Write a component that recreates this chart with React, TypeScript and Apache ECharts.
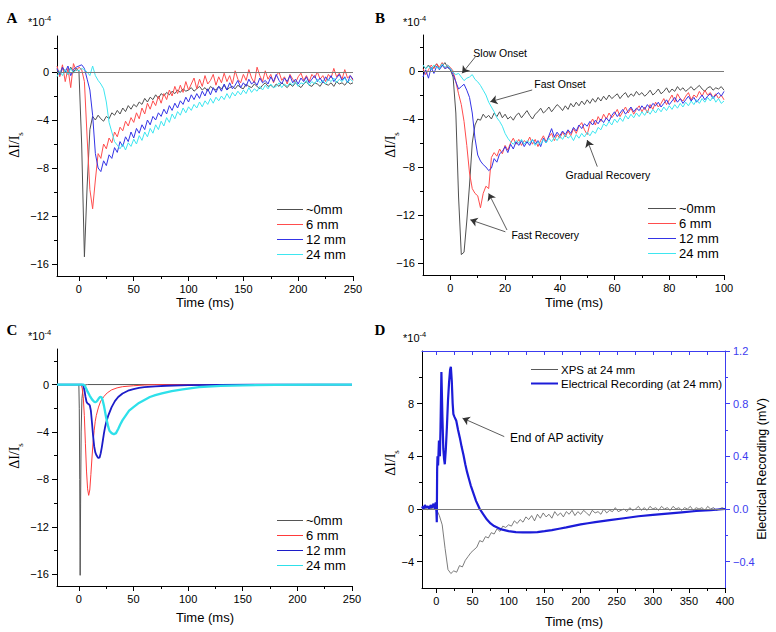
import React, { useEffect, useRef } from "react";
import * as echarts from "echarts";

// ---------- DATA ----------
const SERIES_NAMES = ["~0mm", "6 mm", "12 mm", "24 mm"];

// Panel A: time axis starts at -20 ms, one sample every 2.5 ms
const A_T0 = -20;
const A_DT = 2.5;
const A_BLACK = [
  0.2, -0.3, 0.3, 0.1, -0.2, 0.4, 0.0, 0.3, 0.1, -6.0,
  -15.4, -9.5, -4.8, -3.7, -4.0, -3.6, -3.9, -4.1, -3.7, -3.9,
  -3.4, -3.6, -3.2, -3.5, -3.0, -3.3, -2.8, -3.1, -2.7, -2.9,
  -2.5, -2.7, -2.2, -2.5, -2.1, -2.3, -1.9, -2.2, -1.8, -2.0,
  -1.7, -1.9, -1.6, -1.8, -1.5, -1.7, -1.4, -1.6, -1.5, -1.3,
  -1.6, -1.4, -1.2, -1.5, -1.3, -1.6, -1.2, -1.4, -1.5, -1.2,
  -1.4, -1.1, -1.5, -1.3, -1.2, -1.4, -1.1, -1.3, -1.4, -1.0,
  -1.2, -1.3, -1.0, -1.2, -1.4, -1.1, -0.9, -1.2, -1.1, -1.3,
  -1.0, -1.2, -0.9, -1.1, -1.3, -1.0, -1.2, -0.9, -1.1, -1.3,
  -1.0, -0.8, -1.1, -1.2, -0.9, -1.0, -1.2, -0.8, -1.0, -1.1,
  -0.9, -1.2, -0.8, -1.0, -0.9, -1.1, -0.8, -1.0, -0.9,
];
const A_RED = [
  0.5, -0.4, 0.6, -0.8, 0.3, -1.3, 0.7, 0.1, 0.4, 0.2,
  -0.8, -5.5, -9.8, -11.4, -9.0, -6.8, -7.2, -6.0, -6.4, -5.5,
  -5.9, -5.0, -5.4, -4.6, -4.9, -4.1, -4.5, -3.8, -4.2, -3.4,
  -3.9, -3.0, -3.5, -2.6, -3.1, -2.4, -2.8, -2.0, -2.6, -1.8,
  -2.3, -1.5, -2.0, -1.2, -1.8, -1.1, -1.7, -0.8, -1.5, -1.0,
  -0.5, -1.4, -0.6, -1.2, -0.3, -1.0, -0.7, -0.2, -1.1, -0.4,
  -0.9, -0.1, -0.8, -0.3, -1.0, 0.1, -0.6, -0.9, -0.2, -0.7,
  0.2, -0.5, -0.9, 0.4, -0.3, -0.8, 0.1, -0.6, -0.2, -0.9,
  -0.3, 0.0, -0.7, -0.4, -1.0, -0.2, -0.6, -0.9, -0.4, -0.1,
  -0.7, -0.3, -0.8, -0.2, -0.5, 0.0, -0.6, -0.3, -0.8, -0.2,
  -0.5, 0.3, -0.4, -0.1, -0.6, 0.2, -0.5, -0.3, -0.7,
];
const A_BLUE = [
  0.3, -0.2, 0.4, 0.0, 0.5, -0.3, 0.2, 0.4, 0.5, 0.6,
  0.3, -0.6, -1.5, -3.6, -6.8, -8.0, -8.3, -7.4, -7.8, -6.9,
  -7.2, -6.3, -6.7, -5.8, -6.2, -5.4, -5.8, -5.0, -5.5, -4.7,
  -5.1, -4.4, -4.8, -4.0, -4.4, -3.7, -4.0, -3.4, -3.7, -3.1,
  -3.5, -2.8, -3.2, -2.6, -3.0, -2.4, -2.7, -2.1, -2.5, -1.9,
  -2.3, -1.8, -2.2, -1.6, -2.0, -1.4, -1.9, -1.3, -1.7, -1.2,
  -1.6, -1.0, -1.5, -0.9, -1.4, -1.1, -0.7, -1.3, -0.9, -1.2,
  -0.6, -1.0, -0.8, -1.1, -0.5, -0.9, -0.7, -1.0, -0.4, -0.8,
  -0.2, -0.7, -1.0, -0.5, -0.8, -0.3, -0.9, -0.6, -1.0, -0.5,
  -0.8, -0.4, -0.9, -0.6, -0.3, -0.8, -0.5, -0.9, -0.4, -0.7,
  -0.3, -0.8, -0.5, -0.2, -0.7, -0.4, -0.9, -0.3, -0.6,
];
const A_CYAN = [
  -0.4, 0.1, -0.3, 0.2, -0.2, 0.3, -0.1, 0.2, 0.1, 0.3,
  0.2, 0.0, -0.3, 0.5, -0.3, -0.7, -1.0, -1.4, -2.5, -4.2,
  -5.0, -5.8, -6.1, -6.4, -6.0, -6.5, -5.9, -6.2, -5.6, -6.0,
  -5.3, -5.7, -5.0, -5.4, -4.7, -5.1, -4.4, -4.8, -4.1, -4.5,
  -3.8, -4.2, -3.5, -3.9, -3.3, -3.6, -3.0, -3.4, -2.9, -3.2,
  -2.7, -3.0, -2.5, -2.9, -2.4, -2.7, -2.2, -2.6, -2.1, -2.4,
  -2.0, -2.3, -1.8, -2.2, -1.7, -2.0, -1.6, -1.9, -1.5, -1.8,
  -1.3, -1.7, -1.4, -1.6, -1.2, -1.5, -1.1, -1.4, -1.0, -1.3,
  -1.2, -0.9, -1.3, -1.0, -1.2, -0.9, -1.1, -0.8, -1.2, -0.9,
  -1.0, -0.7, -1.1, -0.8, -1.0, -0.6, -0.9, -0.7, -1.0, -0.6,
  -0.8, -0.5, -0.9, -0.6, -0.8, -0.5, -0.9, -0.6, -0.8,
];

// Panel B: time axis starts at -10 ms, one sample every 1 ms
const B_T0 = -10;
const B_DT = 1;
const B_BLACK = [
  0.4, 0.2, 0.5, 0.1, 0.3, 0.6, 0.2, 0.4, 0.7, 0.3,
  0.1, -0.5, -3.5, -10.5, -15.3, -15.1, -12.5, -9.5, -6.0, -4.5,
  -4.0, -4.1, -3.6, -3.9, -3.7, -4.0, -3.5, -3.8, -3.4, -3.9,
  -3.6, -4.0, -3.8, -4.1, -3.7, -3.5, -3.9, -3.6, -3.3, -3.7,
  -4.0, -3.6, -3.4, -3.1, -3.5, -3.3, -3.0, -3.4, -3.1, -2.8,
  -3.0, -3.3, -2.9, -3.2, -2.7, -3.0, -2.6, -2.9, -2.5, -2.8,
  -2.4, -2.7, -2.3, -2.6, -2.2, -2.5, -2.1, -2.4, -2.0, -2.3,
  -2.1, -1.9, -2.3, -2.0, -1.8, -2.2, -1.9, -2.1, -1.7, -2.0,
  -1.8, -2.1, -1.9, -1.6, -2.0, -1.8, -1.5, -1.9, -1.7, -1.4,
  -1.8, -1.5, -1.7, -1.3, -1.6, -1.4, -1.7, -1.5, -1.3, -1.6,
  -1.4, -1.2, -1.5, -1.7, -1.4, -1.3, -1.6, -1.4, -1.5, -1.3,
  -1.6,
];
const B_RED = [
  0.2, -0.3, 0.1, 0.5, 0.2, 0.6, 0.3, 0.7, 0.2, 0.5,
  0.3, 0.0, -0.9, -1.9, -2.8, -4.2, -6.2, -8.5, -9.8, -10.2,
  -10.4, -11.4, -10.2, -9.6, -9.8, -7.2, -6.8, -7.1, -6.5, -6.9,
  -6.2, -6.6, -6.0, -5.6, -6.1, -5.7, -6.2, -5.8, -6.0, -5.5,
  -6.1, -5.7, -6.3, -5.8, -5.4, -5.9, -5.5, -5.2, -5.8, -5.3,
  -5.6, -5.1, -5.5, -5.0, -5.4, -4.8, -5.2, -4.6, -4.3, -4.9,
  -5.3, -4.4, -4.0, -4.5, -3.8, -4.2, -3.6, -4.0, -3.5, -3.9,
  -3.6, -3.2, -3.8, -3.4, -3.0, -3.5, -3.1, -3.6, -3.2, -2.9,
  -3.4, -3.0, -3.5, -2.8, -3.2, -2.6, -3.0, -2.7, -2.3, -2.8,
  -2.4, -2.0, -2.6, -1.9, -2.3, -2.5, -2.1, -1.8, -2.4, -2.0,
  -2.2, -1.7, -2.1, -1.6, -2.0, -1.8, -2.2, -1.9, -2.3, -2.0,
  -2.4,
];
const B_BLUE = [
  -0.5, 0.1, -0.6, 0.3, -0.2, 0.4, 0.1, 0.5, 0.2, 0.3,
  0.2, -0.3, -0.9, -1.5, -1.3, -1.1, -1.6, -2.2, -3.5, -5.6,
  -7.0, -7.5, -7.8, -8.0, -8.3, -8.1, -7.3, -7.6, -6.9, -6.7,
  -6.3, -6.8, -6.1, -6.5, -5.9, -6.2, -5.8, -6.3, -5.9, -6.2,
  -5.7, -6.1, -5.8, -6.3, -5.6, -6.0, -5.4, -4.8, -5.5, -5.1,
  -5.4, -5.0, -5.3, -4.9, -5.2, -4.7, -5.0, -4.5, -4.8, -4.4,
  -4.6, -4.2, -4.5, -4.1, -4.4, -4.0, -4.3, -3.9, -4.2, -3.7,
  -3.4, -3.8, -3.5, -3.2, -3.6, -3.3, -3.0, -3.4, -3.1, -3.3,
  -2.9, -3.2, -2.8, -3.1, -2.7, -2.9, -2.6, -3.0, -2.7, -2.4,
  -2.8, -2.5, -2.2, -2.6, -2.3, -2.7, -2.4, -2.1, -2.5, -2.2,
  -2.6, -2.3, -2.0, -2.4, -2.1, -1.9, -2.3, -2.0, -1.8, -2.1,
  -1.7,
];
const B_CYAN = [
  0.5, 0.2, 0.4, 0.1, 0.5, 0.3, 0.2, 0.6, 0.3, 0.5,
  0.2, -0.1, -0.3, -0.2, -0.5, -0.8, -0.6, -0.5, -0.3, -0.7,
  -0.9, -1.2, -1.6, -2.0, -2.6, -3.0, -3.4, -3.9, -4.2, -4.6,
  -5.2, -5.6, -5.9, -6.1, -5.8, -6.0, -5.7, -6.1, -5.8, -6.0,
  -5.7, -6.2, -5.9, -6.1, -5.7, -6.0, -5.6, -5.9, -5.5, -5.8,
  -5.4, -5.7, -5.3, -5.6, -5.4, -5.8, -5.3, -5.6, -5.2, -5.5,
  -5.1, -5.4, -5.0, -5.2, -4.7, -4.9, -4.4, -4.6, -4.2, -4.5,
  -4.0, -4.3, -3.9, -4.2, -3.7, -4.0, -3.6, -3.9, -3.5, -3.8,
  -3.4, -3.7, -3.3, -3.6, -3.2, -3.5, -3.1, -3.4, -3.0, -3.3,
  -2.9, -3.2, -2.8, -3.1, -2.7, -3.0, -2.6, -2.9, -2.5, -2.8,
  -2.4, -2.7, -2.3, -2.6, -2.2, -2.5, -2.1, -2.6, -2.3, -2.7,
  -2.5,
];

// Panel C: simulated (smooth) curves, [time ms, value]
const C_BLACK: [number, number][] = [
  [-20, 0], [0, 0], [0.4, -2], [0.8, -8], [1.2, -16.1], [1.6, -10], [2.1, -4],
  [2.8, -1.2], [3.8, -0.3], [5, -0.05], [8, 0], [250, 0],
];
const C_RED: [number, number][] = [
  [-20, 0], [2, 0], [3, -0.3], [4, -1.0], [5, -2.6], [6, -5.0], [7, -7.3], [8, -8.8],
  [9, -9.35], [10, -8.9], [11, -7.6], [12, -6.2], [13, -4.9], [14, -3.9], [15, -3.1],
  [16, -2.6], [18, -1.9], [20, -1.4], [23, -1.0], [26, -0.7], [30, -0.45], [35, -0.28],
  [40, -0.18], [50, -0.1], [60, -0.04], [70, -0.01], [100, 0], [250, 0],
];
const C_BLUE: [number, number][] = [
  [-20, 0], [3, 0], [4, -0.1], [5, -0.4], [6, -1.0], [7, -1.45], [8, -1.6], [9, -1.65],
  [10, -1.75], [11, -2.2], [12, -3.2], [13, -4.3], [14, -5.2], [15, -5.7], [16, -5.95],
  [17, -6.1], [18, -6.2], [19, -6.15], [20, -5.8], [21, -5.3], [22, -4.7], [23, -4.1],
  [24, -3.6], [25, -3.2], [27, -2.6], [30, -1.9], [33, -1.4], [36, -1.05], [40, -0.75],
  [45, -0.52], [50, -0.38], [55, -0.28], [60, -0.22], [70, -0.15], [80, -0.1],
  [100, -0.05], [130, -0.02], [160, 0], [250, 0],
];
const C_CYAN: [number, number][] = [
  [-20, 0], [4, 0], [5, -0.05], [6, -0.2], [7, -0.4], [8, -0.6], [10, -0.95], [12, -1.25],
  [14, -1.45], [15, -1.48], [16, -1.45], [17, -1.35], [18, -1.2], [19, -1.08], [20, -1.04],
  [21, -1.1], [22, -1.4], [23, -1.8], [24, -2.3], [25, -2.8], [26, -3.2], [27, -3.6],
  [28, -3.9], [30, -4.1], [32, -4.2], [34, -4.1], [36, -3.75], [38, -3.35], [40, -3.0],
  [43, -2.6], [46, -2.2], [50, -1.9], [55, -1.55], [60, -1.3], [65, -1.05], [70, -0.9],
  [76, -0.75], [85, -0.55], [95, -0.4], [110, -0.22], [130, -0.12], [150, -0.07],
  [180, -0.03], [220, -0.01], [250, 0],
];

// Panel D: XPS at 24 mm (left axis), from -20 ms every 4 ms
const D_NAMES = ["XPS at 24 mm", "Electrical Recording (at 24 mm)"];
const D_T0 = -20;
const D_DT = 4;
const D_XPS = [
  0.0, 0.05, -0.05, 0.05, 0.0, 0.0, -0.5, -1.2, -3.0, -4.6,
  -4.9, -4.7, -4.8, -4.3, -4.4, -3.9, -3.6, -3.3, -3.1, -2.9,
  -2.4, -2.5, -2.1, -2.2, -1.8, -1.9, -1.5, -1.7, -1.3, -1.4,
  -1.2, -1.3, -0.9, -1.1, -0.8, -1.0, -0.6, -0.8, -0.5, -0.9,
  -0.4, -0.7, -0.3, -0.6, -0.4, -0.7, -0.2, -0.5, -0.3, -0.6,
  -0.2, -0.4, -0.1, -0.5, -0.2, -0.4, -0.1, -0.3, -0.5, -0.1,
  -0.3, -0.2, -0.4, 0.0, -0.3, -0.1, -0.2, 0.1, -0.2, -0.1,
  0.0, -0.2, 0.1, -0.1, 0.0, 0.2, -0.1, 0.1, -0.1, 0.2,
  0.0, 0.1, -0.1, 0.2, 0.0, 0.1, -0.1, 0.2, 0.0, 0.1,
  -0.1, 0.1, 0.0, 0.2, -0.1, 0.1, 0.0, 0.1, -0.1, 0.2,
  0.0, 0.1, -0.1, 0.0, 0.1, 0.0,
];
// Panel D: electrical recording (right axis, mV), [time ms, mV]
const D_ELEC: [number, number][] = [
  [-20, 0.02], [-18, 0.0], [-16, 0.03], [-14, 0.01], [-12, 0.02], [-10, 0.0], [-8, 0.03],
  [-6, 0.01], [-4, 0.04], [-2, 0.0], [-1, 0.05], [0, -0.02], [0.5, -0.1], [1, 0.3],
  [1.5, 0.4], [2.3, 0.33], [3.5, 0.52], [4.8, 0.4], [5.6, 0.6], [6.9, 1.04], [8.2, 0.72],
  [9.5, 0.46], [10.6, 0.38], [11.6, 0.34], [13, 0.45], [14.5, 0.62], [16, 0.82],
  [17.5, 0.96], [19, 1.06], [20, 1.08], [21.3, 0.97], [22.5, 0.8], [23.5, 0.72], [25, 0.7],
  [27.5, 0.67], [30, 0.6], [32.5, 0.54], [35, 0.47], [37.5, 0.41], [40, 0.34], [42.5, 0.28],
  [45, 0.23], [47.5, 0.18], [50, 0.14], [52.5, 0.1], [55, 0.06], [57.5, 0.03], [60, 0.0],
  [62.5, -0.02], [65, -0.04], [70, -0.08], [75, -0.11], [80, -0.13], [90, -0.155],
  [100, -0.168], [110, -0.175], [120, -0.178], [130, -0.178], [140, -0.175], [150, -0.168],
  [160, -0.16], [170, -0.15], [180, -0.14], [190, -0.128], [200, -0.117], [210, -0.108],
  [220, -0.1], [240, -0.085], [260, -0.07], [280, -0.055], [300, -0.045], [320, -0.035],
  [340, -0.025], [360, -0.015], [380, -0.008], [400, 0.0],
];

// tick values
const A_MAJOR_X = [0, 50, 100, 150, 200, 250];
const A_MINOR_X = [25, 75, 125, 175, 225];
const B_MAJOR_X = [0, 20, 40, 60, 80, 100];
const B_MINOR_X = [10, 30, 50, 70, 90];
const D_MAJOR_X = [0, 50, 100, 150, 200, 250, 300, 350, 400];
const D_MINOR_X = [25, 75, 125, 175, 225, 275, 325, 375];
const D_TOP_X = [0, 25, 50, 75, 100, 125, 150, 175, 200, 225, 250, 275, 300, 325, 350, 375];
const Y_MAJOR = [-16, -12, -8, -4, 0];
const Y_MINOR = [-14, -10, -6, -2, 2];
const D_MAJOR_YL = [-4, 0, 4, 8];
const D_MINOR_YL = [-2, 2, 6, 10];
const D_MAJOR_YR = [-0.4, 0, 0.4, 0.8, 1.2];
const D_MINOR_YR = [-0.2, 0.2, 0.6, 1.0];

// ---------- STYLE ----------
const SANS = "Liberation Sans, Arial, sans-serif";
const SERIF = "Liberation Serif, Times New Roman, serif";
const COL_A = ["#505050", "#ff4d4d", "#3434e6", "#3ee6f0"];
const COL_C = ["#555555", "#ff3a3a", "#1c1cc8", "#2ee0ea"];
const AXIS_BLUE = "#3c3cf0";
const XPS_COL = "#5a5a5a";
const ELEC_COL = "#1c1cd8";

const fmt = (v: number) => (v < 0 ? "\u2212" + String(Math.abs(v)) : String(v));
const fmt1 = (v: number) => {
  const s = Math.abs(v).toFixed(1);
  return v < -1e-9 ? "\u2212" + s : s;
};
const pairs = (t0: number, dt: number, arr: number[]) => arr.map((v, i) => [t0 + dt * i, v]);

function xAxes(grid: number, min: number, max: number, major: number[], minor: number[]) {
  return [
    {
      type: "value", gridIndex: grid, position: "bottom", min, max,
      axisLine: { show: true, onZero: false, lineStyle: { color: "#000", width: 1 } },
      axisTick: { show: true, customValues: major, length: 5, lineStyle: { color: "#000" } },
      axisLabel: { show: true, customValues: major, formatter: fmt, color: "#000", fontSize: 11, fontFamily: SANS, margin: 7 },
      splitLine: { show: false },
    },
    {
      type: "value", gridIndex: grid, position: "bottom", min, max,
      axisLine: { show: false, onZero: false },
      axisTick: { show: true, customValues: minor, length: 3, lineStyle: { color: "#000" } },
      axisLabel: { show: false },
      splitLine: { show: false },
    },
  ];
}
function yAxes(grid: number, min: number, max: number, major: number[], minor: number[], pos = "left", color = "#000", f = fmt) {
  return [
    {
      type: "value", gridIndex: grid, position: pos, min, max,
      axisLine: { show: true, onZero: false, lineStyle: { color, width: 1 } },
      axisTick: { show: true, customValues: major, length: 5, lineStyle: { color } },
      axisLabel: { show: true, customValues: major, formatter: f, color, fontSize: 11, fontFamily: SANS, margin: 8 },
      splitLine: { show: false },
    },
    {
      type: "value", gridIndex: grid, position: pos, min, max,
      axisLine: { show: false, onZero: false },
      axisTick: { show: true, customValues: minor, length: 3, lineStyle: { color } },
      axisLabel: { show: false },
      splitLine: { show: false },
    },
  ];
}
function line(name: string, data: any[], xi: number, yi: number, color: string, width: number, extra: any = {}) {
  return {
    type: "line", name, data, xAxisIndex: xi, yAxisIndex: yi,
    symbol: "none", showSymbol: false, silent: true, animation: false,
    lineStyle: { color, width }, itemStyle: { color },
    ...extra,
  };
}
const zeroLine = {
  silent: true, symbol: ["none", "none"], label: { show: false }, animation: false,
  lineStyle: { color: "#7a7a7a", width: 1, type: "solid" },
  data: [{ yAxis: 0 }],
};
const arrowLine = (segs: number[][][]) => ({
  silent: true, symbol: ["none", "arrow"], symbolSize: 7, label: { show: false }, animation: false,
  lineStyle: { color: "#333", width: 0.8, type: "solid" },
  data: segs.map(([a, b]) => [{ coord: a }, { coord: b }]),
});
const noteText = (notes: { name: string; coord: number[] }[], size: number) => ({
  silent: true, symbol: "circle", symbolSize: 0, animation: false,
  label: { show: true, position: "right", distance: 0, formatter: (p: any) => p.name, color: "#000", fontSize: size, fontFamily: SANS },
  data: notes,
});

// legend drawn as graphic: a short line sample + label per entry
function legendBox(x: number, y0: number, step: number, names: string[], colors: string[], widths: number[], size: number, len = 26) {
  const out: any[] = [];
  names.forEach((n, i) => {
    const y = Math.round(y0 + i * step) + 0.5;
    out.push({
      type: "line", silent: true,
      shape: { x1: x, y1: y, x2: x + len, y2: y },
      style: { stroke: colors[i], lineWidth: widths[i] },
    });
    out.push({
      type: "text", x: x + len + 3, y, silent: true,
      style: { text: n, fill: "#000", fontSize: size, fontFamily: SANS, align: "left", verticalAlign: "middle" },
    });
  });
  return out;
}

const txt = (x: number, y: number, text: string, extra: any = {}) => ({
  type: "text", x, y, silent: true,
  style: { text, fill: "#000", fontSize: 13, fontFamily: SANS, align: "center", verticalAlign: "middle", ...extra },
});
const yTitle = (x: number, y: number) => ({
  type: "text", x, y, rotation: Math.PI / 2, silent: true,
  style: {
    text: "{a|\u0394I/I}{b|s}", align: "center", verticalAlign: "middle", fill: "#000",
    rich: {
      a: { fontSize: 14, fontFamily: SERIF, lineHeight: 20, fill: "#000" },
      b: { fontSize: 9, fontFamily: SERIF, lineHeight: 9, verticalAlign: "bottom", fill: "#000" },
    },
  },
});
const scale = (x: number, y: number) => ({
  type: "text", x, y, silent: true,
  style: {
    text: "{a|*10}{b|-4}", align: "left", verticalAlign: "middle", fill: "#000",
    rich: {
      a: { fontSize: 11, fontFamily: SANS, lineHeight: 16, fill: "#000" },
      b: { fontSize: 7.5, fontFamily: SANS, lineHeight: 8, verticalAlign: "top", fill: "#000" },
    },
  },
});
const panel = (x: number, y: number, t: string) => txt(x, y, t, { fontSize: 15, fontWeight: "bold", fontFamily: SERIF });

export default function App() {
  const ref = useRef<HTMLDivElement>(null);
  useEffect(() => {
    if (!ref.current) return;
    const chart = echarts.init(ref.current, undefined, { renderer: "svg" });
    const aData = [A_BLACK, A_RED, A_BLUE, A_CYAN];
    const bData = [B_BLACK, B_RED, B_BLUE, B_CYAN];
    const cData = [C_BLACK, C_RED, C_BLUE, C_CYAN];
    const cWidth = [1, 1, 1.8, 2.3];

    const series: any[] = [];
    SERIES_NAMES.forEach((n, i) => {
      series.push(line(n, pairs(A_T0, A_DT, aData[i]), 0, 0, COL_A[i], 1, i === 0 ? { markLine: zeroLine } : {}));
    });
    SERIES_NAMES.forEach((n, i) => {
      const extra: any = {};
      if (i === 0) extra.markLine = zeroLine;
      if (i === 1) {
        extra.markLine = arrowLine([
          [[9.1, 1.17], [4.3, -0.19]],
          [[29.9, -1.58], [14.6, -2.56]],
          [[53.7, -7.97], [50, -5.75]],
          [[20.1, -13.4], [7.3, -12.4]],
          [[20.7, -13.25], [14, -10.2]],
        ]);
        extra.markPoint = noteText([
          { name: "Slow Onset", coord: [8.4, 1.5] },
          { name: "Fast Onset", coord: [30.7, -1.08] },
          { name: "Gradual Recovery", coord: [42.1, -8.7] },
          { name: "Fast Recovery", coord: [22.3, -13.7] },
        ], 10.5);
      }
      series.push(line(n, pairs(B_T0, B_DT, bData[i]), 2, 2, COL_A[i], 1, extra));
    });
    SERIES_NAMES.forEach((n, i) => {
      series.push(line(n, cData[i], 4, 4, COL_C[i], cWidth[i]));
    });
    series.push(line(D_NAMES[0], pairs(D_T0, D_DT, D_XPS), 6, 6, XPS_COL, 0.8, { markLine: zeroLine }));
    series.push(line(D_NAMES[1], D_ELEC, 6, 8, ELEC_COL, 2.2, {
      markLine: arrowLine([[[94, 0.55], [36.2, 0.69]]]),
      markPoint: noteText([{ name: "End of AP activity", coord: [102, 0.537] }], 12),
    }));

    const thin = [1, 1, 1, 1];
    const option: any = {
      animation: false,
      backgroundColor: "#fff",
      grid: [
        { left: 57, top: 36, width: 296, height: 240 },
        { left: 423, top: 35, width: 301, height: 240 },
        { left: 57, top: 349, width: 295, height: 237 },
        { left: 422, top: 351, width: 303, height: 237 },
      ],
      xAxis: [
        ...xAxes(0, -20, 250, A_MAJOR_X, A_MINOR_X),
        ...xAxes(1, -10, 100, B_MAJOR_X, B_MINOR_X),
        ...xAxes(2, -20, 250, A_MAJOR_X, A_MINOR_X),
        ...xAxes(3, -20, 400, D_MAJOR_X, D_MINOR_X),
        {
          type: "value", gridIndex: 3, position: "top", min: -20, max: 400,
          axisLine: { show: true, onZero: false, lineStyle: { color: AXIS_BLUE, width: 1 } },
          axisTick: { show: true, inside: true, customValues: D_TOP_X, length: 4, lineStyle: { color: AXIS_BLUE } },
          axisLabel: { show: false }, splitLine: { show: false },
        },
      ],
      yAxis: [
        ...yAxes(0, -17, 3, Y_MAJOR, Y_MINOR),
        ...yAxes(1, -17, 3, Y_MAJOR, Y_MINOR),
        ...yAxes(2, -17, 3, Y_MAJOR, Y_MINOR),
        ...yAxes(3, -6, 12, D_MAJOR_YL, D_MINOR_YL),
        ...yAxes(3, -0.6, 1.2, D_MAJOR_YR, D_MINOR_YR, "right", AXIS_BLUE, fmt1),
      ],
      series,
      graphic: [
        panel(12, 18, "A"), panel(380, 18, "B"), panel(12, 330, "C"), panel(380, 330, "D"),
        scale(28, 22), scale(403, 22), scale(28, 336), scale(403, 338),
        yTitle(14, 145), yTitle(390, 145), yTitle(14, 456), yTitle(390, 463),
        txt(205, 302, "Time (ms)"), txt(574, 302, "Time (ms)"), txt(205, 617, "Time (ms)"), txt(574, 621, "Time (ms)"),
        { ...txt(762, 469, "Electrical Recording (mV)", { fontSize: 12.5 }), rotation: Math.PI / 2 },
        ...legendBox(277, 209, 15, SERIES_NAMES, COL_A, thin, 13),
        ...legendBox(648, 208, 15, SERIES_NAMES, COL_A, thin, 13, 28),
        ...legendBox(277, 520, 15, SERIES_NAMES, COL_C, thin, 13),
        ...legendBox(531, 369, 13.5, D_NAMES, [XPS_COL, ELEC_COL], [1, 2], 11.5, 27),
      ],
    };
    chart.setOption(option);
    return () => chart.dispose();
  }, []);
  return (
    <div
      ref={ref}
      style={{ position: "fixed", left: 0, top: 0, width: 776, height: 632, background: "#fff" }}
    />
  );
}
